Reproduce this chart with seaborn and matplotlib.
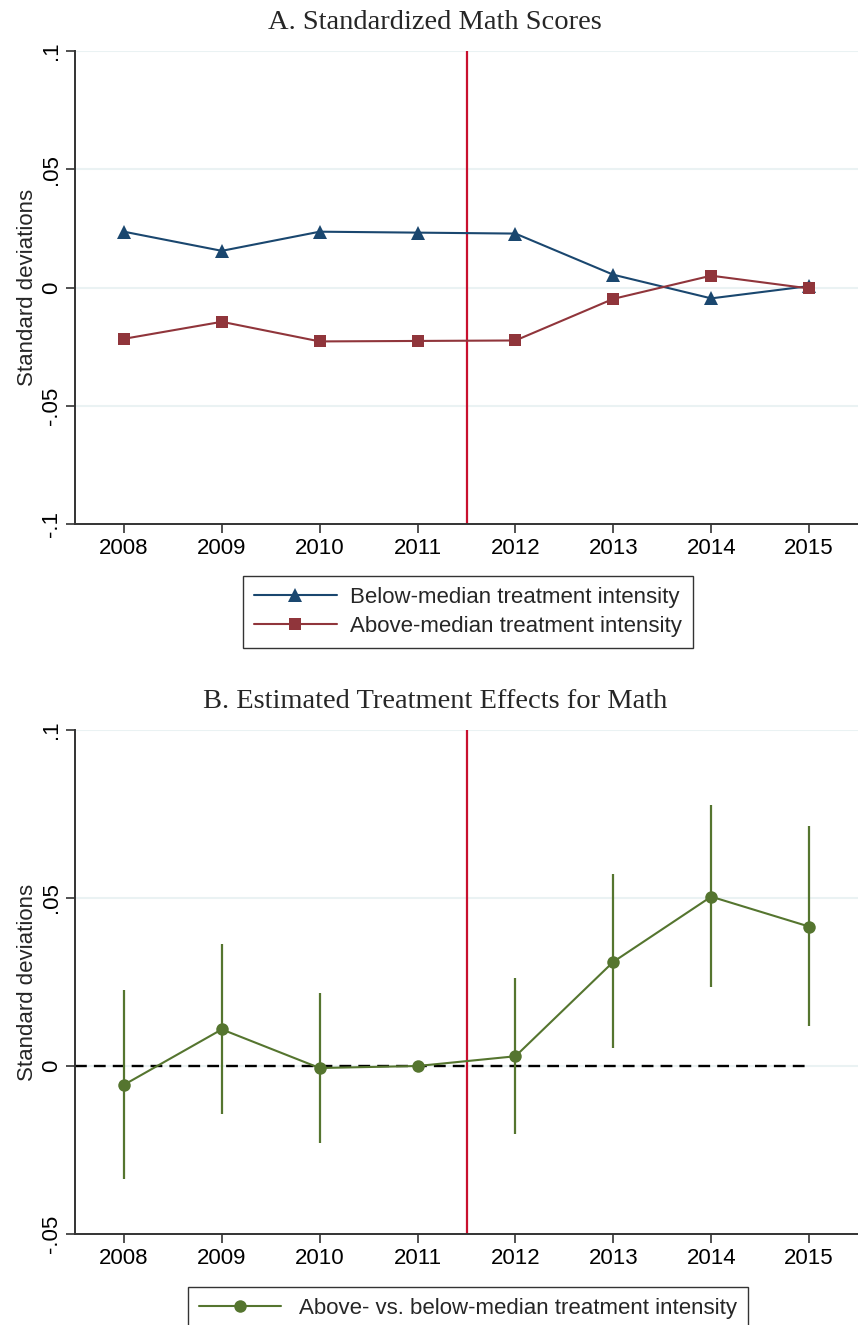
import numpy as np
import pandas as pd
import matplotlib
matplotlib.use("Agg")
import matplotlib.pyplot as plt
import seaborn as sns

# --- data ---
years = [2008, 2009, 2010, 2011, 2012, 2013, 2014, 2015]
below_median = [0.0236, 0.0155, 0.0236, 0.0232, 0.0228, 0.0054, -0.0046, 0.0006]
above_median = [-0.0217, -0.0145, -0.0228, -0.0226, -0.0224, -0.0048, 0.0050, -0.0004]

effect = [-0.0056, 0.0109, -0.0006, 0.0, 0.0029, 0.0310, 0.0504, 0.0415]
ci_low = [-0.0336, -0.0143, -0.0228, 0.0, -0.0203, 0.0053, 0.0234, 0.0119]
ci_high = [0.0225, 0.0362, 0.0217, 0.0, 0.0262, 0.0571, 0.0777, 0.0713]

label_below = "Below-median treatment intensity"
label_above = "Above-median treatment intensity"
label_diff = "Above- vs. below-median treatment intensity"

BLUE = "#1a476f"
RED = "#90353b"
GREEN = "#55752f"
VLINE = "#c8102e"
GRID = "#eaf2f3"
FS = 16

sns.set_theme(style="white")
plt.rcParams["font.family"] = ["Liberation Sans", "DejaVu Sans"]
plt.rcParams["axes.edgecolor"] = "#333333"
plt.rcParams["xtick.color"] = "#333333"
plt.rcParams["ytick.color"] = "#333333"
plt.rcParams["xtick.labelcolor"] = "black"
plt.rcParams["ytick.labelcolor"] = "black"

fig = plt.figure(figsize=(8.58, 13.25), dpi=100)
H = 1325.0
W = 858.0
axA = fig.add_axes([75 / W, 1 - 524 / H, 1 - 75 / W, (524 - 51) / H])
axB = fig.add_axes([75 / W, 1 - 1234 / H, 1 - 75 / W, (1234 - 730) / H])
title_x = (435 - 75) / (W - 75)


def style_axis(ax, yticks, yticklabels, ylim, grid_ticks):
    ax.set_xlim(2007.5, 2015.5)
    ax.set_ylim(*ylim)
    for y in grid_ticks:
        ax.axhline(y, color=GRID, lw=1.5, zorder=0)
    ax.set_yticks(yticks)
    ax.set_yticklabels(yticklabels, rotation=90, va="center", fontsize=FS)
    ax.set_xticks(years)
    ax.set_xticklabels([str(y) for y in years], fontsize=FS)
    ax.tick_params(axis="both", direction="out", length=6.5, width=1.2, bottom=True, left=True)
    ax.tick_params(axis="x", pad=3.5)
    ax.tick_params(axis="y", pad=3)
    for s in ["top", "right"]:
        ax.spines[s].set_visible(False)
    for s in ["left", "bottom"]:
        ax.spines[s].set_linewidth(1.4)
    ax.set_ylabel("Standard deviations", fontsize=FS, labelpad=2)
    ax.set_xlabel("")
    ax.axvline(2011.5, color=VLINE, lw=1.6, zorder=1)


# --- Panel A ---
dfA = pd.DataFrame({
    "year": years * 2,
    "value": below_median + above_median,
    "group": [label_below] * len(years) + [label_above] * len(years),
})
sns.lineplot(data=dfA, x="year", y="value", hue="group", style="group",
             palette={label_below: BLUE, label_above: RED},
             markers={label_below: "^", label_above: "s"}, dashes=False,
             markersize=9.5, markeredgewidth=0, linewidth=1.5, ax=axA, zorder=3)
style_axis(axA, [-0.1, -0.05, 0, 0.05, 0.1], ["-.1", "-.05", "0", ".05", ".1"],
           (-0.1, 0.1), [-0.05, 0, 0.05, 0.1])
axA.get_legend().remove()
for ln in axA.get_lines():
    if ln.get_marker() == "s":
        ln.set_markersize(8.5)
axA.set_title("A. Standardized Math Scores", fontsize=20.5, family="Liberation Serif",
              pad=16, x=title_x)
hA, lA = axA.get_legend_handles_labels()
for h in hA:
    if h.get_marker() == "s":
        h.set_markersize(8.5)
legA = fig.legend(hA, lA, loc="center", bbox_to_anchor=(468 / W, 1 - 612 / H),
                  fontsize=FS, frameon=True, fancybox=False, edgecolor="black",
                  handlelength=3.7, handletextpad=0.6, borderpad=0.5, labelspacing=0.35)
legA.get_frame().set_linewidth(1.0)

# --- Panel B ---
dfB = pd.DataFrame({"year": years, "value": effect, "group": [label_diff] * len(years)})
axB.hlines(0, 2007.5, 2015, colors="black", linestyles=(0, (5, 3)), lw=1.7, zorder=2)
axB.vlines(years, ci_low, ci_high, colors=GREEN, lw=1.6, zorder=3)
sns.lineplot(data=dfB, x="year", y="value", hue="group", palette={label_diff: GREEN},
             marker="o", markersize=9, markeredgewidth=0, linewidth=1.5, ax=axB, zorder=4)
style_axis(axB, [-0.05, 0, 0.05, 0.1], ["-.05", "0", ".05", ".1"],
           (-0.05, 0.1), [0, 0.05, 0.1])
axB.get_legend().remove()
axB.set_title("B. Estimated Treatment Effects for Math", fontsize=20.5, family="Liberation Serif",
              pad=16, x=title_x)
hB, lB = axB.get_legend_handles_labels()
legB = fig.legend(hB, lB, loc="upper center", bbox_to_anchor=(468 / W, 1 - 1287 / H),
                  borderaxespad=0, fontsize=FS, frameon=True, fancybox=False,
                  edgecolor="black", handlelength=3.7, handletextpad=0.8, borderpad=0.5)
legB.get_frame().set_linewidth(1.0)

fig.savefig("out.png", dpi=100)
